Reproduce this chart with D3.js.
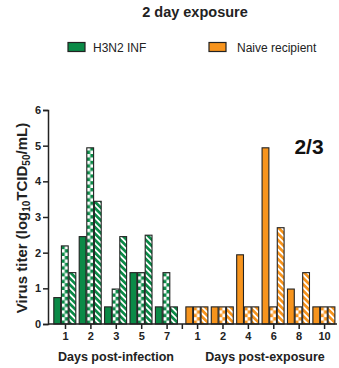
<!DOCTYPE html>
<html><head><meta charset="utf-8">
<script src="https://cdn.jsdelivr.net/npm/d3@7"></script>
<style>body{margin:0;background:#fff}svg{display:block;font-family:"Liberation Sans",Arial,sans-serif}</style>
</head><body><svg id="c" width="339" height="368"></svg>
<script>
const title = "2 day exposure";
const seriesNames = ["H3N2 INF", "Naive recipient"];
const leftDays = ["1","2","3","5","7"];
const infSolid  = [0.74, 2.45, 0.48, 1.44, 0.48];
const infCheck  = [2.19, 4.94, 0.98, 1.44, 1.44];
const infStripe = [1.44, 3.44, 2.45, 2.49, 0.48];
const rightDays = ["1","2","4","6","8","10"];
const recSolid  = [0.48, 0.48, 1.94, 4.94, 0.98, 0.48];
const recCheck  = [0.48, 0.48, 0.48, 0.48, 0.48, 0.48];
const recStripe = [0.48, 0.48, 0.48, 2.70, 1.44, 0.48];
const yTicks = [0,1,2,3,4,5,6];
const annotation = "2/3";
const xTitles = ["Days post-infection", "Days post-exposure"];

const green = "#0b8a47", orange = "#f7941d", stroke = "#222";
const svg = d3.select("#c");
const defs = svg.append("defs");
const bw = 6.8;
function mkPatterns(name, col){
  const s = bw/2;
  const ck = defs.append("pattern").attr("id","ck-"+name).attr("patternUnits","userSpaceOnUse")
    .attr("width",bw).attr("height",bw);
  ck.append("rect").attr("width",bw).attr("height",bw).attr("fill",col);
  ck.append("rect").attr("width",s).attr("height",s).attr("fill","#fff");
  ck.append("rect").attr("x",s).attr("y",s).attr("width",s).attr("height",s).attr("fill","#fff");
  const st = defs.append("pattern").attr("id","st-"+name).attr("patternUnits","userSpaceOnUse")
    .attr("width",4.5).attr("height",4.5).attr("patternTransform","rotate(45)");
  st.append("rect").attr("width",4.5).attr("height",4.5).attr("fill",col);
  st.append("rect").attr("width",4.5).attr("height",1.8).attr("fill","#fff");
}
mkPatterns("g", green); mkPatterns("o", orange);

const y = d3.scaleLinear().domain([0,6]).range([324,110]);
// slot scale: left groups at 0..4, separator 4.6, right groups at 5.2..10.2
const x = d3.scaleLinear().domain([0,1]).range([65,90.4]);
const leftSlots = leftDays.map((d,i)=>i);
const rightSlots = rightDays.map((d,i)=>5.2+i);
const sepSlot = 4.6;

// title
svg.append("text").attr("x",195).attr("y",17).attr("text-anchor","middle")
  .attr("font-size",14.5).attr("font-weight","bold").attr("fill","#222").text(title);
// legend
[[68,green,seriesNames[0],93],[209,orange,seriesNames[1],237]].forEach(([sx,c,t,tx])=>{
  svg.append("rect").attr("x",sx).attr("y",42.5).attr("width",17).attr("height",9)
    .attr("fill",c).attr("stroke",stroke).attr("stroke-width",1.2);
  svg.append("text").attr("x",tx).attr("y",51.5).attr("font-size",12).attr("fill","#222").text(t);
});

// bars (each rect translated so its pattern aligns with its left edge)
function drawGroup(slots, vals, fills){
  vals.forEach((arr,k)=>{
    svg.append("g").selectAll("rect").data(arr).join("rect")
      .attr("transform",(d,i)=>`translate(${x(slots[i]) - 1.5*bw - 1 + k*(bw+0.8)},${y(0)})`)
      .attr("x",0).attr("y",d=>y(d)-y(0)).attr("width",bw).attr("height",d=>y(0)-y(d))
      .attr("fill",fills[k]).attr("stroke",stroke).attr("stroke-width",1.1);
  });
}
drawGroup(leftSlots,[infSolid,infCheck,infStripe],[green,"url(#ck-g)","url(#st-g)"]);
drawGroup(rightSlots,[recSolid,recCheck,recStripe],[orange,"url(#ck-o)","url(#st-o)"]);

// y axis
const ya = svg.append("g").attr("transform","translate(48,0)")
  .call(d3.axisLeft(y).tickValues(yTicks).tickSize(5).tickPadding(2).tickFormat(d3.format("d")));
ya.select(".domain").attr("stroke","#222").attr("stroke-width",1.5);
ya.selectAll(".tick line").attr("stroke","#222").attr("stroke-width",1.5);
ya.selectAll("text").attr("font-size",11).attr("font-weight","bold").attr("fill","#222")
  .attr("font-family","Liberation Sans, Arial, sans-serif");

// x axis
const allSlots = [...leftSlots, sepSlot, ...rightSlots];
const labels = [...leftDays, "", ...rightDays];
const xa = svg.append("g").attr("transform","translate(0,324)")
  .call(d3.axisBottom(x).tickValues(allSlots).tickSize(5).tickPadding(3)
    .tickFormat((d,i)=>labels[i]));
xa.select(".domain").remove();
xa.append("line").attr("x1",48).attr("x2",337).attr("stroke","#222").attr("stroke-width",1.5);
xa.selectAll(".tick line").attr("stroke","#222").attr("stroke-width",1.5);
xa.selectAll("text").attr("font-size",11).attr("font-weight","bold").attr("fill","#222")
  .attr("font-family","Liberation Sans, Arial, sans-serif");

// x titles
svg.append("text").attr("x",116).attr("y",361).attr("text-anchor","middle")
  .attr("font-size",12.5).attr("font-weight","bold").attr("fill","#222").text(xTitles[0]);
svg.append("text").attr("x",265).attr("y",361).attr("text-anchor","middle")
  .attr("font-size",12.5).attr("font-weight","bold").attr("fill","#222").text(xTitles[1]);

// y title
const yt = svg.append("text").attr("transform","translate(27,218) rotate(-90)")
  .attr("text-anchor","middle").attr("font-size",15).attr("font-weight","bold").attr("fill","#222");
yt.append("tspan").text("Virus titer (log");
yt.append("tspan").attr("font-size",10).attr("dy",3).text("10");
yt.append("tspan").attr("dy",-3).text("TCID");
yt.append("tspan").attr("font-size",10).attr("dy",3).text("50");
yt.append("tspan").attr("dy",-3).text("/mL)");

// annotation
svg.append("text").attr("x",309).attr("y",154).attr("text-anchor","middle")
  .attr("font-size",21).attr("font-weight","bold").attr("fill","#111").text(annotation);
</script></body></html>
